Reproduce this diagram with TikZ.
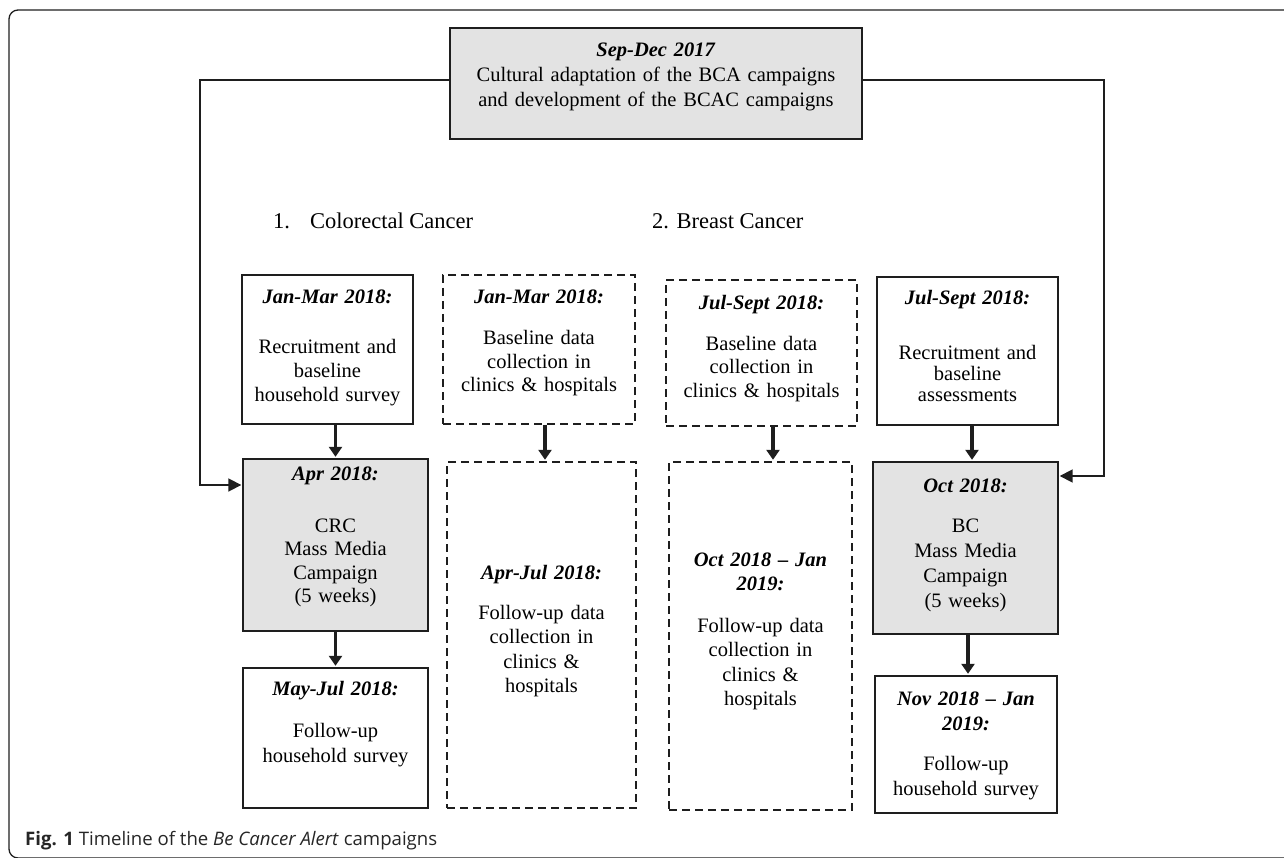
\documentclass[tikz,border=0pt]{standalone}
\usepackage{fontspec}
\setmainfont{Liberation Serif}
\newfontfamily\capfont{Open Sans}
\usetikzlibrary{arrows.meta}
\definecolor{boxgray}{RGB}{227,227,227}
\definecolor{lineblk}{RGB}{30,30,30}
\begin{document}
\begin{tikzpicture}[x=1pt,y=-1pt,
 box/.style={draw=lineblk, line width=1.4pt, inner sep=0pt},
 grayb/.style={box, fill=boxgray},
 dashb/.style={box, dash pattern=on 8pt off 5pt},
 txt/.style={font=\fontsize{20.5}{23.5}\selectfont, align=center, text width=200pt, anchor=base, inner sep=0pt},
 looser/.style={font=\fontsize{20.5}{25}\selectfont},
 down/.style={draw=lineblk, line width=3.6pt, -{Triangle[length=10pt,width=13pt]}, shorten >=1.5pt},
 side/.style={draw=lineblk, line width=1.8pt, -{Triangle[length=13pt,width=13pt]}, shorten >=1pt},
 head/.style={anchor=base west, inner sep=0pt, font=\fontsize{22.5}{25}\selectfont},
]
\useasboundingbox (0,0) rectangle (1284,858);
% outer frame
\draw[line width=1.3pt, draw=lineblk, rounded corners=9pt] (1295,10) -- (9,10) -- (9,858) -- (1295,858);

% boxes
\node[grayb, minimum width=412, minimum height=111] (top) at (656,83.5) {};
\node[box, minimum width=171, minimum height=149] (b1) at (327.5,349.5) {};
\node[grayb, minimum width=185, minimum height=172] (crc) at (335.5,545) {};
\node[box, minimum width=185, minimum height=140] (b2) at (335.5,738) {};
\node[dashb, minimum width=192, minimum height=149] (d1) at (539,349.5) {};
\node[dashb, minimum width=189, minimum height=346] (d2) at (541.5,635) {};
\node[dashb, minimum width=191, minimum height=146] (d3) at (761.5,353) {};
\node[dashb, minimum width=183, minimum height=348] (d4) at (760.5,636) {};
\node[box, minimum width=181, minimum height=148] (b4) at (967.5,351) {};
\node[grayb, minimum width=185, minimum height=172] (bc) at (965.5,548) {};
\node[box, minimum width=182, minimum height=137] (b5) at (966,744.5) {};

% texts
\node[txt, looser, text width=400pt] (ttop) at (656,57) {\textbf{\textit{Sep-Dec 2017}}\\Cultural adaptation of the BCA campaigns\\and development of the BCAC campaigns};
\node[txt] (tb1) at (327.5,304) {\textbf{\textit{Jan-Mar 2018:}}\\[26.5pt]Recruitment and\\baseline\\household survey};
\node[txt] (td1) at (539,304) {\textbf{\textit{Jan-Mar 2018:}}\\[17.5pt]Baseline data\\collection in\\clinics \& hospitals};
\node[txt] (td3) at (761.5,310) {\textbf{\textit{Jul-Sept 2018:}}\\[16.5pt]Baseline data\\collection in\\clinics \& hospitals};
\node[txt, font=\fontsize{20.5}{21}\selectfont] (tb4) at (967.5,305) {\textbf{\textit{Jul-Sept 2018:}}\\[34pt]Recruitment and\\baseline\\assessments};
\node[txt] (tcrc) at (335.5,480) {\textbf{\textit{Apr 2018:}}\\[28.5pt]CRC\\Mass Media\\Campaign\\(5 weeks)};
\node[txt, font=\fontsize{20.5}{24.5}\selectfont] (td2) at (541.5,579) {\textbf{\textit{Apr-Jul 2018:}}\\[15.5pt]Follow-up data\\collection in\\clinics \&\\hospitals};
\node[txt, looser] (tb2) at (335.5,695) {\textbf{\textit{May-Jul 2018:}}\\[17pt]Follow-up\\household survey};
\node[txt, font=\fontsize{20.5}{24.5}\selectfont] (td4) at (760.5,566) {\textbf{\textit{Oct 2018 -- Jan}}\\\textbf{\textit{2019:}}\\[17pt]Follow-up data\\collection in\\clinics \&\\hospitals};
\node[txt, looser] (tbc) at (965.5,492) {\textbf{\textit{Oct 2018:}}\\[15pt]BC\\Mass Media\\Campaign\\(5 weeks)};
\node[txt, looser] (tb5) at (966,705) {\textbf{\textit{Nov 2018 -- Jan}}\\\textbf{\textit{2019:}}\\[15pt]Follow-up\\household survey};

% headings
\node[head] (h1) at (273,229) {1.\hspace{20pt}Colorectal Cancer};
\node[head] (h2) at (652,229) {2. Breast Cancer};

% caption
\node[anchor=base west, inner sep=0pt, font=\capfont\fontsize{18.6}{22}\selectfont, text=black!85] (cap) at (25,845) {\textbf{Fig. 1} Timeline of the \textit{Be Cancer Alert} campaigns};

% vertical arrows
\draw[down] (b1.south -| crc.north) -- (crc.north);
\draw[down] ([xshift=6pt]d1.south) -- ([xshift=6pt]d1.south |- d2.north);
\draw[down] ([xshift=11.5pt]d3.south) -- ([xshift=11.5pt]d3.south |- d4.north);
\draw[down] ([xshift=4.5pt]b4.south) -- ([xshift=4.5pt]b4.south |- bc.north);
\draw[down] (crc.south) -- (crc.south |- b2.north);
\draw[down] ([xshift=2.5pt]bc.south) -- ([xshift=2.5pt]bc.south |- b5.north);

% side connectors
\coordinate (lc) at (200,485);
\coordinate (rc) at (1104,476);
\draw[side] ([yshift=3.5pt]top.west) -| (lc) -- (lc -| crc.west);
\draw[side] ([yshift=3.5pt]top.east) -| (rc) -- (rc -| bc.east);
\end{tikzpicture}
\end{document}
